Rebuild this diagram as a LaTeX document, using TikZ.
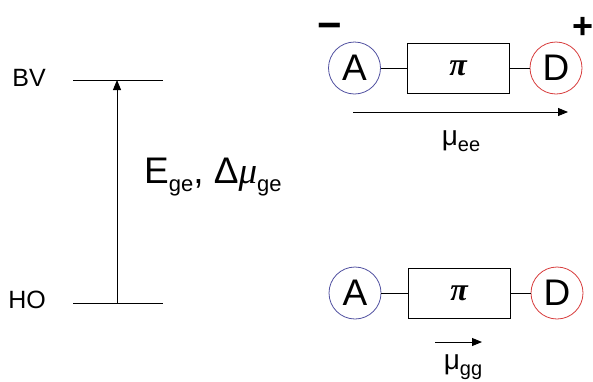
\documentclass[tikz,border=0pt]{standalone}
\usepackage{fontspec}
\setmainfont{Liberation Sans}
\newfontfamily\pifont{Liberation Serif}
\usetikzlibrary{arrows.meta,positioning}

\definecolor{acceptor}{RGB}{80,80,160}
\definecolor{donor}{RGB}{215,60,60}

\begin{document}
\begin{tikzpicture}[
    x=1pt, y=-1pt,
    level/.style={draw=black, line width=0.8pt},
    unit/.style={circle, draw, line width=0.8pt, minimum size=52pt, inner sep=0pt, font=\fontsize{37}{37}\selectfont},
    bridge/.style={draw, line width=0.8pt, minimum width=102pt, minimum height=50pt, inner sep=0pt, font=\pifont\bfseries\itshape\fontsize{32}{32}\selectfont},
    link/.style={draw, line width=0.7pt},
    dipole/.style={draw, line width=0.9pt, -{Triangle[length=10pt,width=8pt]}},
    label/.style={inner sep=0pt, font=\fontsize{25}{25}\selectfont},
    charge/.style={inner sep=0pt, anchor=base, font=\bfseries\fontsize{42}{42}\selectfont}
]
\useasboundingbox (0,0) rectangle (593,381);

% energy levels
\coordinate (bvL) at (73,80);
\coordinate (bvR) at (163,80);
\coordinate (hoL) at (73,303);
\coordinate (hoR) at (163,303);
\draw[level] (bvL) -- (bvR);
\draw[level] (hoL) -- (hoR);
\node[label, anchor=east] (bv) at (46,78) {BV};
\node[label, anchor=east] (ho) at (46,300) {HO};

% transition
\coordinate (up) at (117,80);
\coordinate (down) at (117,303);
\draw[dipole] (down) -- (up);
\node[inner sep=0pt, anchor=west] (trans) at (144,177)
  {\fontsize{37}{37}\selectfont E\raisebox{-0.4ex}{\fontsize{22}{22}\selectfont ge}, Δ{\pifont\itshape μ}\raisebox{-0.4ex}{\fontsize{22}{22}\selectfont ge}};

% excited state
\node[unit, draw=acceptor] (accE) at (354.5,68) {A};
\node[bridge] (piE) at (458,68) {π};
\node[unit, draw=donor] (donE) at (556,68) {D};
\draw[link] (accE) -- (piE);
\draw[link] (piE) -- (donE);
\node[charge] (minus) at (330,39) {−};
\node[charge, font=\bfseries\fontsize{36}{36}\selectfont] (plus) at (583,38) {+};
\coordinate (muEL) at (353,112);
\coordinate (muER) at (568,112);
\draw[dipole] (muEL) -- (muER);
\node[label, font=\fontsize{28}{28}\selectfont] (muE) at (461,141) {μ\raisebox{-0.4ex}{\fontsize{20}{20}\selectfont ee}};

% ground state
\node[unit, draw=acceptor] (accG) at (355,293) {A};
\node[bridge] (piG) at (459,293) {π};
\node[unit, draw=donor] (donG) at (557,293) {D};
\draw[link] (accG) -- (piG);
\draw[link] (piG) -- (donG);
\coordinate (muGL) at (435,342);
\coordinate (muGR) at (482,342);
\draw[dipole] (muGL) -- (muGR);
\node[label, font=\fontsize{28}{28}\selectfont] (muG) at (463,367) {μ\raisebox{-0.4ex}{\fontsize{20}{20}\selectfont gg}};

\end{tikzpicture}
\end{document}
